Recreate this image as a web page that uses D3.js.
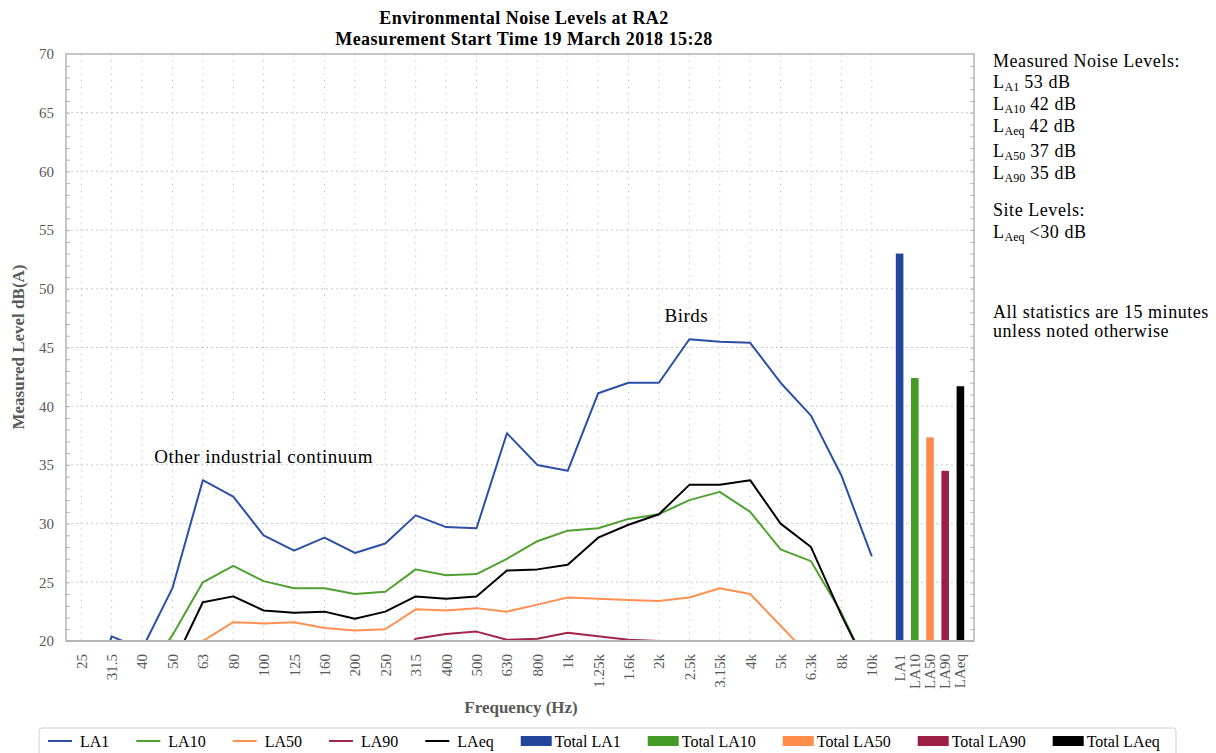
<!DOCTYPE html>
<html>
<head>
<meta charset="utf-8">
<script src="https://cdn.jsdelivr.net/npm/d3@7"></script>
<style>
  body { margin: 0; background: #fff; }
  svg text { font-family: "Liberation Serif", "Times New Roman", serif; }
</style>
</head>
<body>
<div id="chart"></div>
<script>
// frequency bands (1/3 octave)
var freqLabels = ["25", "31.5", "40", "50", "63", "80", "100", "125", "160", "200", "250", "315", "400",
  "500", "630", "800", "1k", "1.25k", "1.6k", "2k", "2.5k", "3.15k", "4k", "5k", "6.3k", "8k", "10k"];

// spectra, dB(A) (values under 20 sit below the axis and are clipped)
var la1 = [12.0, 20.4, 19.3, 24.5, 33.7, 32.3, 29.0, 27.7, 28.8, 27.5, 28.3, 30.7, 29.7,
  29.6, 37.7, 35.0, 34.5, 41.1, 42.0, 42.0, 45.7, 45.5, 45.4, 42.0, 39.2, 34.1, 27.2];
var la10 = [13.0, 14.5, 16.7, 20.5, 25.0, 26.4, 25.1, 24.5, 24.5, 24.0, 24.2, 26.1, 25.6,
  25.7, 27.0, 28.5, 29.4, 29.6, 30.4, 30.8, 32.0, 32.7, 31.0, 27.8, 26.8, 22.4, 17.0];
var la50 = [11.0, 12.0, 13.5, 16.0, 20.0, 21.6, 21.5, 21.6, 21.1, 20.9, 21.0, 22.7, 22.6,
  22.8, 22.5, 23.1, 23.7, 23.6, 23.5, 23.4, 23.7, 24.5, 24.0, 21.3, 18.6, 16.0, 13.5];
var la90 = [10.0, 11.0, 12.0, 13.5, 15.5, 16.5, 16.8, 17.0, 16.8, 16.5, 17.0, 20.2, 20.6,
  20.8, 20.1, 20.2, 20.7, 20.4, 20.1, 20.0, 19.0, 19.3, 19.0, 17.5, 15.5, 13.0, 11.0];
var laeq = [11.0, 13.0, 15.5, 17.9, 23.3, 23.8, 22.6, 22.4, 22.5, 21.9, 22.5, 23.8, 23.6,
  23.8, 26.0, 26.1, 26.5, 28.8, 29.9, 30.8, 33.3, 33.3, 33.7, 30.0, 28.0, 22.2, 17.0];

var seriesNames = ["LA1", "LA10", "LA50", "LA90", "LAeq"];
var seriesValues = [la1, la10, la50, la90, laeq];

// overall totals
var totalLabels = ["LA1", "LA10", "LA50", "LA90", "LAeq"];
var totalValues = [53.0, 42.4, 37.35, 34.5, 41.7];

var yTicks = [20, 25, 30, 35, 40, 45, 50, 55, 60, 65, 70];

var lineColors = ["#2b4fa6", "#4ea12f", "#ff8f52", "#a2254c", "#000000"];
var barColors = ["#21469b", "#449c26", "#ff8c4a", "#9c2046", "#000000"];

var svgWidth = 1216;
var svgHeight = 753;
var plot = { left: 66, right: 974, top: 54, bottom: 641 };

var svg = d3.select("#chart")
  .append("svg")
  .attr("width", svgWidth)
  .attr("height", svgHeight);

// scales
var x = d3.scalePoint()
  .domain(freqLabels)
  .range([plot.left, 887])
  .padding(0.5);

var xBar = d3.scaleBand()
  .domain(totalLabels)
  .range([892, 968])
  .paddingInner(0.5)
  .paddingOuter(0.25);

var y = d3.scaleLinear()
  .domain([20, 70])
  .range([plot.bottom, plot.top]);

var grey = "#595959";

// grid
svg.append("g")
  .selectAll("line")
  .data(yTicks.slice(1, -1))
  .enter()
  .append("line")
  .attr("x1", plot.left)
  .attr("x2", plot.right)
  .attr("y1", d => y(d))
  .attr("y2", d => y(d))
  .attr("stroke", "#c8c8c8")
  .attr("stroke-dasharray", "2,3");

svg.append("g")
  .selectAll("line")
  .data(freqLabels)
  .enter()
  .append("line")
  .attr("x1", d => x(d))
  .attr("x2", d => x(d))
  .attr("y1", plot.top)
  .attr("y2", plot.bottom)
  .attr("stroke", "#c8c8c8")
  .attr("stroke-dasharray", "1.5,5");

// frame
svg.append("rect")
  .attr("x", plot.left)
  .attr("y", plot.top)
  .attr("width", plot.right - plot.left)
  .attr("height", plot.bottom - plot.top)
  .attr("fill", "none")
  .attr("stroke", "#b4b4b4")
  .attr("stroke-width", 1.5);

// minor ticks on left and right edges, every dB
var minorTicks = d3.range(21, 70);
svg.append("g")
  .attr("transform", `translate(${plot.left}, 0)`)
  .call(d3.axisRight(y).tickValues(minorTicks).tickSize(4).tickFormat(""))
  .call(g => g.select(".domain").remove())
  .call(g => g.selectAll("line").attr("stroke", "#b4b4b4"));

svg.append("g")
  .attr("transform", `translate(${plot.right}, 0)`)
  .call(d3.axisLeft(y).tickValues(minorTicks).tickSize(4).tickFormat(""))
  .call(g => g.select(".domain").remove())
  .call(g => g.selectAll("line").attr("stroke", "#b4b4b4"));

// y axis labels
svg.append("g")
  .attr("transform", `translate(${plot.left}, 0)`)
  .call(d3.axisLeft(y).tickValues(yTicks).tickSize(0).tickPadding(12))
  .call(g => g.select(".domain").remove())
  .call(g => g.selectAll("text")
    .attr("fill", grey)
    .style("font-size", "15px")
    .style("font-family", "Liberation Serif"));

// x axis labels (frequencies + totals)
var xAxisG = svg.append("g")
  .attr("transform", `translate(0, ${plot.bottom})`)
  .call(d3.axisBottom(x).tickSize(0).tickPadding(0))
  .call(g => g.select(".domain").remove());

var xBarAxisG = svg.append("g")
  .attr("transform", `translate(0, ${plot.bottom})`)
  .call(d3.axisBottom(xBar).tickSize(0).tickPadding(0))
  .call(g => g.select(".domain").remove());

[xAxisG, xBarAxisG].forEach(function(g) {
  g.selectAll("text")
    .attr("transform", "rotate(-90)")
    .attr("x", -13)
    .attr("y", 0)
    .attr("dy", "0.33em")
    .attr("text-anchor", "end")
    .attr("fill", grey)
    .style("font-size", "15px")
    .style("font-family", "Liberation Serif");
});

// clip for spectra
svg.append("clipPath")
  .attr("id", "plotClip")
  .append("rect")
  .attr("x", plot.left)
  .attr("y", plot.top)
  .attr("width", plot.right - plot.left)
  .attr("height", plot.bottom - plot.top);

var line = d3.line()
  .x((d, i) => x(freqLabels[i]))
  .y(d => y(d));

svg.append("g")
  .attr("clip-path", "url(#plotClip)")
  .selectAll("path")
  .data(seriesValues)
  .enter()
  .append("path")
  .attr("d", d => line(d))
  .attr("fill", "none")
  .attr("stroke", (d, i) => lineColors[i])
  .attr("stroke-width", 2)
  .attr("stroke-linejoin", "round");

// total bars
svg.append("g")
  .selectAll("rect")
  .data(totalValues)
  .enter()
  .append("rect")
  .attr("x", (d, i) => xBar(totalLabels[i]))
  .attr("width", xBar.bandwidth())
  .attr("y", d => y(d))
  .attr("height", d => y(20) - y(d))
  .attr("fill", (d, i) => barColors[i]);

// redraw bottom edge over the lines
svg.append("line")
  .attr("x1", plot.left)
  .attr("x2", plot.right)
  .attr("y1", plot.bottom)
  .attr("y2", plot.bottom)
  .attr("stroke", "#b4b4b4")
  .attr("stroke-width", 2);

// titles
var title = svg.append("text")
  .attr("text-anchor", "middle")
  .attr("font-weight", "bold")
  .style("font-size", "18px")
  .style("letter-spacing", "0.45px")
  .attr("fill", "#000");
title.append("tspan").attr("x", 524).attr("y", 24).text("Environmental Noise Levels at RA2");
title.append("tspan").attr("x", 524).attr("y", 45).text("Measurement Start Time 19 March 2018 15:28");

svg.append("text")
  .attr("transform", "rotate(-90)")
  .attr("x", -347)
  .attr("y", 24)
  .attr("text-anchor", "middle")
  .attr("font-weight", "bold")
  .attr("fill", grey)
  .style("font-size", "17px")
  .text("Measured Level dB(A)");

svg.append("text")
  .attr("x", 521)
  .attr("y", 713)
  .attr("text-anchor", "middle")
  .attr("font-weight", "bold")
  .attr("fill", grey)
  .style("font-size", "17px")
  .text("Frequency (Hz)");

// annotations
svg.append("text")
  .attr("x", x("100"))
  .attr("y", 463)
  .attr("text-anchor", "middle")
  .style("font-size", "19px")
  .style("letter-spacing", "0.5px")
  .text("Other industrial continuum");

svg.append("text")
  .attr("x", x("2.5k") - 3)
  .attr("y", 322)
  .attr("text-anchor", "middle")
  .style("font-size", "19px")
  .style("letter-spacing", "0.5px")
  .text("Birds");

// side notes
var notes = [
  { y: 67, parts: [["Measured Noise Levels:", false]] },
  { y: 88, parts: [["L", false], ["A1", true], [" 53 dB", false]] },
  { y: 110, parts: [["L", false], ["A10", true], [" 42 dB", false]] },
  { y: 132, parts: [["L", false], ["Aeq", true], [" 42 dB", false]] },
  { y: 157, parts: [["L", false], ["A50", true], [" 37 dB", false]] },
  { y: 179, parts: [["L", false], ["A90", true], [" 35 dB", false]] },
  { y: 216, parts: [["Site Levels:", false]] },
  { y: 238, parts: [["L", false], ["Aeq", true], [" <30 dB", false]] },
  { y: 318, parts: [["All statistics are 15 minutes", false]] },
  { y: 337, parts: [["unless noted otherwise", false]] }
];

notes.forEach(function(n) {
  var t = svg.append("text")
    .attr("x", 993)
    .attr("y", n.y)
    .style("font-size", "18px")
    .style("letter-spacing", "0.55px")
    .attr("fill", "#000");
  n.parts.forEach(function(p) {
    var s = t.append("tspan").text(p[0]);
    if (p[1]) {
      s.style("font-size", "12px").style("letter-spacing", "0px").attr("dy", 3);
    } else if (t.selectAll("tspan").size() > 1) {
      s.attr("dy", -3);
    }
  });
});

// legend
var legend = svg.append("g");
legend.append("rect")
  .attr("x", 39)
  .attr("y", 728)
  .attr("width", 1137)
  .attr("height", 40)
  .attr("rx", 3)
  .attr("fill", "#fff")
  .attr("stroke", "#cfcfcf");

var legendItems = seriesNames.map((d, i) => ({ label: d, color: lineColors[i], type: "line" }))
  .concat(totalLabels.map((d, i) => ({ label: "Total " + d, color: barColors[i], type: "bar" })));

var lx = 48;
legendItems.forEach(function(item) {
  var tx;
  if (item.type === "line") {
    legend.append("line")
      .attr("x1", lx).attr("x2", lx + 24)
      .attr("y1", 741).attr("y2", 741)
      .attr("stroke", item.color)
      .attr("stroke-width", 2);
    tx = lx + 32;
  } else {
    legend.append("rect")
      .attr("x", lx).attr("y", 736)
      .attr("width", 31).attr("height", 10)
      .attr("fill", item.color);
    tx = lx + 34;
  }
  var t = legend.append("text")
    .attr("x", tx)
    .attr("y", 747)
    .style("font-size", "16px")
    .attr("fill", "#000")
    .text(item.label);
  lx = tx + t.node().getComputedTextLength() + 27;
});
</script>
</body>
</html>
